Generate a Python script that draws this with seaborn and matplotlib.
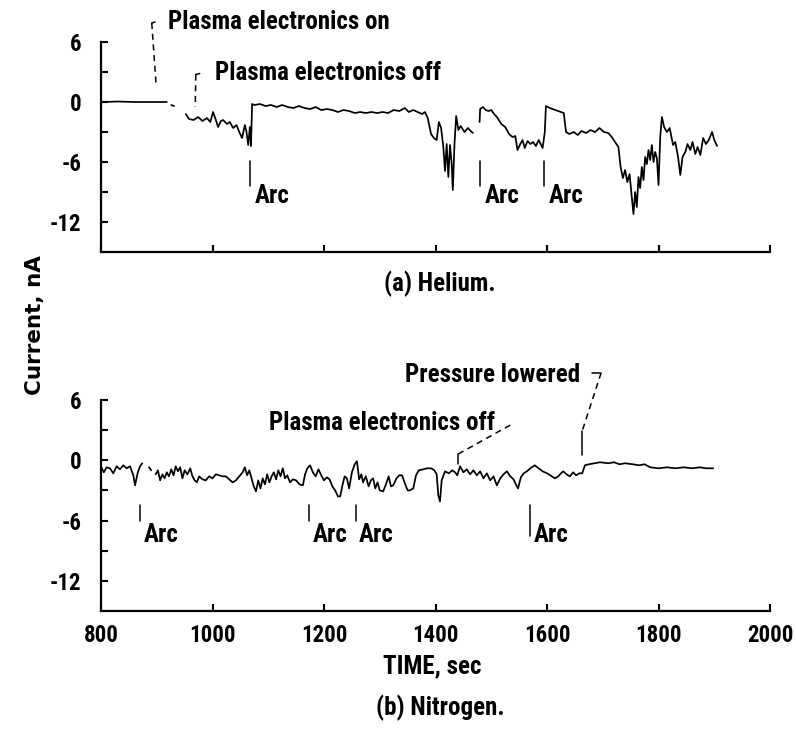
import numpy as np
import pandas as pd
import matplotlib
matplotlib.use("Agg")
import matplotlib.pyplot as plt
import seaborn as sns

# ---- helium run (NaN marks a break in the recorder trace) ----
he_time = [800, 830, 860, 890, 918, np.nan,
           926, 931, np.nan,
           952, 958, 966, 974, 982, 990, 996, 1001, 1006, 1010, 1015, 1019, 1026,
           1031, 1037, 1043, 1048, 1053, 1058, 1061, 1064, 1067, 1069, 1071,
           1075, 1085, 1095, 1105, 1115, 1125, 1135, 1145, 1155, 1165, 1175, 1185,
           1195, 1205, 1215, 1225, 1235, 1245, 1255, 1265, 1275, 1285, 1295, 1305,
           1315, 1325, 1335, 1345, 1352, 1360, 1368, 1376, 1381, 1386, 1392, 1397,
           1402, 1406, 1410, 1414, 1417, 1420, 1423, 1426, 1429, 1431, 1434, 1437,
           1441, 1445, 1452, 1458, 1463, 1467, np.nan,
           1479, 1480, 1485, 1490, 1495, 1500, 1505, 1510, 1518, 1525, 1532, 1538,
           1543, 1547, 1552, 1556, 1560, 1565, 1570, 1575, 1580, 1585, 1592, 1596,
           1598, 1605, 1615, 1625, 1630, 1634, 1640, 1648, 1655, 1662, 1670, 1678,
           1686, 1694, 1702, 1710, 1716, 1722, 1728, 1732, 1736, 1740, 1744, 1748,
           1752, 1755, 1758, 1761, 1764, 1767, 1770, 1773, 1776, 1779, 1782, 1785,
           1788, 1791, 1794, 1797, 1800, 1803, 1806, 1810, 1815, 1820, 1826, 1830,
           1835, 1839, 1843, 1848, 1852, 1857, 1861, 1866, 1870, 1875, 1880, 1885,
           1890, 1896, 1900, 1905]
he_current = [0.0, 0.05, 0.0, 0.0, 0.0, np.nan,
              -0.3, -0.4, np.nan,
              -1.2, -1.7, -1.8, -1.5, -1.9, -1.6, -2.0, -1.0, -1.8, -2.5, -1.9, -1.8, -2.2,
              -2.0, -2.6, -2.3, -3.0, -3.6, -2.3, -3.0, -4.3, -2.5, -4.4, -0.2,
              -0.3, -0.2, -0.4, -0.3, -0.5, -0.3, -0.5, -0.6, -0.4, -0.6, -0.7, -0.5,
              -0.8, -0.7, -0.8, -1.0, -0.8, -0.9, -1.1, -1.0, -1.1, -1.0, -1.1, -1.0,
              -1.1, -0.8, -0.9, -0.6, -1.0, -0.8, -1.0, -1.2, -1.0, -1.6, -3.2, -3.6,
              -3.8, -2.0, -2.6, -4.5, -6.9, -4.2, -7.5, -4.3, -6.2, -8.8, -4.2, -1.4,
              -2.8, -2.4, -3.0, -2.6, -2.9, -3.1, np.nan,
              -2.0, -0.7, -0.5, -0.8, -0.9, -0.8, -1.2, -1.5, -2.2, -2.5, -3.2, -3.5,
              -3.4, -4.8, -4.2, -3.8, -4.6, -3.9, -4.2, -4.0, -4.4, -3.8, -4.6, -3.0,
              -0.4, -0.6, -0.8, -1.0, -1.1, -3.0, -3.2, -3.0, -3.3, -2.9, -3.1, -2.8,
              -3.0, -2.6, -3.0, -3.1, -3.5, -4.0, -4.5, -6.5, -7.6, -6.8, -8.0, -7.2,
              -9.5, -11.2, -9.0, -10.5, -7.5, -8.6, -6.5, -7.8, -5.5, -6.2, -4.8, -5.8,
              -4.3, -6.0, -5.0, -5.6, -8.3, -3.5, -1.5, -2.5, -3.0, -2.6, -4.3, -4.0,
              -5.5, -7.3, -5.5, -5.0, -4.2, -4.8, -4.0, -5.2, -4.5, -5.3, -3.6, -4.2,
              -3.8, -3.0, -3.8, -4.4]

# ---- nitrogen run ----
n2_time = [800, 805, 810, 816, 822, 828, 834, 840, 846, 852, 858, 861, 866, 870, 874, np.nan,
           886, 890, np.nan,
           898, 902, 906, 910, 914, 918, 922, 926, 930, 934, 938, 942, 946, 950, 955,
           960, 964, 968, 972, 976, 982, 988, 994, 1000, 1006, 1012, 1018, 1024, 1030,
           1036, 1042, 1048, 1054, 1058, 1062, 1066, 1070, 1074, 1078, 1082, 1086,
           1090, 1094, 1098, 1102, 1106, 1110, 1114, 1118, 1122, 1126, 1130, 1134,
           1139, 1144, 1150, 1156, 1162, 1166, 1170, 1175, 1180, 1185, 1190, 1195,
           1200, 1205, 1210, 1215, 1220, 1225, 1229, 1233, 1237, 1241, 1245, 1250,
           1255, 1259, 1263, 1267, 1270, 1275, 1280, 1284, 1288, 1292, 1296, 1300,
           1306, 1311, 1316, 1320, 1324, 1330, 1335, 1340, 1345, 1350, 1354, 1360,
           1365, 1370, 1378, 1385, 1392, 1398, 1402, 1405, 1408, 1411, 1417, 1424,
           1430, 1435, 1439, 1444, 1450, 1456, 1462, 1468, 1474, 1480, 1486, 1492,
           1498, 1504, 1510, 1516, 1522, 1528, 1534, 1540, 1544, 1548, 1553, 1558,
           1564, 1570, 1578, 1585, 1592, 1600, 1606, 1614, 1620, 1625, 1629, 1635,
           1641, 1647, 1652, 1658, 1663, 1668, 1675, 1685, 1695, 1710, 1720, 1730,
           1740, 1754, 1765, 1775, 1785, 1800, 1815, 1830, 1845, 1860, 1874, 1885, 1898]
n2_current = [-0.6, -1.2, -0.7, -0.8, -1.3, -0.6, -0.9, -0.5, -0.8, -0.6, -1.5, -2.5, -1.2, -0.6, -0.3, np.nan,
              -0.7, -1.0, np.nan,
              -1.4, -1.0, -2.0, -1.4, -1.8, -1.2, -1.6, -0.9, -1.5, -0.6, -1.1, -0.7, -1.8, -1.0, -1.4,
              -0.8, -1.6, -2.0, -2.2, -1.6, -1.9, -2.0, -1.6, -1.8, -1.4, -1.5, -1.6, -1.6, -1.9,
              -2.2, -2.0, -1.6, -1.2, -0.7, -1.5, -1.0, -1.8, -2.6, -3.1, -2.0, -2.8,
              -1.8, -2.4, -1.4, -2.2, -1.6, -1.2, -1.9, -1.0, -1.6, -0.8, -1.8, -1.5,
              -2.2, -1.9, -2.0, -2.4, -2.5, -1.4, -0.8, -0.5, -1.2, -1.6, -0.9, -1.5,
              -2.0, -1.7, -1.9, -2.6, -3.0, -3.6, -3.6, -2.5, -1.6, -1.8, -2.8, -1.2,
              -0.4, -0.1, -1.9, -1.4, -2.2, -1.6, -2.6, -2.0, -1.8, -2.8, -2.2, -3.0,
              -3.1, -2.4, -1.6, -2.6, -2.5, -1.8, -1.5, -1.5, -2.3, -3.0, -3.0, -2.8,
              -1.5, -1.0, -0.9, -0.8, -0.8, -1.0, -1.4, -3.5, -4.1, -2.0, -1.1, -1.3,
              -1.0, -1.2, -1.5, -0.6, -1.2, -0.9, -1.4, -1.0, -1.5, -1.1, -1.8, -1.3,
              -2.0, -1.6, -2.5, -1.8, -1.4, -1.1, -1.6, -1.9, -2.4, -2.8, -1.7, -1.3,
              -1.1, -0.8, -0.5, -0.8, -1.1, -1.3, -1.5, -1.8, -1.6, -1.3, -1.1, -1.4,
              -1.6, -1.2, -1.5, -1.3, -1.3, -0.5, -0.4, -0.3, -0.2, -0.3, -0.2, -0.4,
              -0.3, -0.4, -0.5, -0.4, -0.7, -0.8, -0.7, -0.8, -0.7, -0.8, -0.7, -0.8, -0.8]

# arc events
he_arc_times = [1067, 1480, 1595]
n2_arc_times = [870, 1173, 1257, 1570]

x_ticks = [800, 1000, 1200, 1400, 1600, 1800, 2000]
y_major = [6, 0, -6, -12]
y_minor = [3, -3, -9]


def trace_frame(t, c):
    df = pd.DataFrame({"time": t, "current": c})
    df["piece"] = df["current"].isna().cumsum()
    return df.dropna()


sns.set_style("ticks")
plt.rcParams["font.family"] = ["Roboto Condensed", "DejaVu Sans"]
plt.rcParams["font.weight"] = "bold"
for key in ("text.color", "axes.labelcolor", "xtick.color", "ytick.color", "axes.edgecolor"):
    plt.rcParams[key] = "black"

fig = plt.figure(figsize=(7.96, 7.32), dpi=100)
ax_he = fig.add_axes([0.1269, 0.6557, 0.8405, 0.2869])
ax_n2 = fig.add_axes([0.1269, 0.1653, 0.8405, 0.2883])

TXT = 18
for ax, t, c in [(ax_he, he_time, he_current), (ax_n2, n2_time, n2_current)]:
    sns.lineplot(data=trace_frame(t, c), x="time", y="current", units="piece",
                 estimator=None, color="black", lw=1.25, ax=ax, sort=False)
    ax.set_xlim(800, 2000)
    ax.set_ylim(-15, 6)
    ax.set_xticks(x_ticks)
    ax.set_yticks(y_major)
    ax.set_yticks(y_minor, minor=True)
    ax.set_yticklabels([str(v) for v in y_major])
    sns.despine(ax=ax)
    for s in ("left", "bottom"):
        ax.spines[s].set_linewidth(1.6)
    ax.tick_params(axis="both", which="both", direction="in", length=5, width=1.5,
                   labelsize=16.5)
    ax.tick_params(axis="y", pad=14)
    ax.tick_params(axis="x", pad=9)
    ax.set_xlabel("")
    ax.set_ylabel("")

ax_he.tick_params(axis="x", labelbottom=False)

dash = dict(color="black", lw=1.1, ls=(0, (4, 3)), clip_on=False)
solid = dict(color="black", lw=1.1, clip_on=False)

# helium annotations
ax_he.plot([891, 899], [7.9, 1.6], **dash)
ax_he.plot([891, 897], [7.9, 8.0], **solid)
ax_he.text(920, 8.0, "Plasma electronics on", fontsize=TXT, va="center", ha="left")
ax_he.plot([970, 969], [2.75, -0.5], **dash)
ax_he.plot([970, 977], [2.75, 2.85], **solid)
ax_he.text(1004, 2.95, "Plasma electronics off", fontsize=TXT, va="center", ha="left")
for t in he_arc_times:
    ax_he.plot([t, t], [-5.9, -8.4], **solid)
    ax_he.text(t + 8, -9.4, "Arc", fontsize=TXT, va="center", ha="left")

# nitrogen annotations
ax_n2.text(1507, 3.7, "Plasma electronics off", fontsize=TXT, va="center", ha="right")
ax_n2.plot([1534, 1440], [3.5, 0.6], **dash)
ax_n2.plot([1440, 1440], [0.6, -0.4], **solid)
ax_n2.text(1345, 8.5, "Pressure lowered", fontsize=TXT, va="center", ha="left")
ax_n2.plot([1681, 1697], [8.7, 8.7], **solid)
ax_n2.plot([1697, 1663], [8.7, 2.9], **dash)
ax_n2.plot([1663, 1663], [2.9, 0.5], **solid)
for t in n2_arc_times:
    bottom = -7.5 if t == 1570 else -6.0
    ax_n2.plot([t, t], [-4.5, bottom], **solid)
    ax_n2.text(t + 6, -7.4, "Arc", fontsize=TXT, va="center", ha="left")

fig.text(440 / 796, 1 - 284 / 732, "(a) Helium.", fontsize=TXT, ha="center", va="center")
fig.text(432 / 796, 1 - 666 / 732, "TIME, sec", fontsize=TXT, ha="center", va="center")
fig.text(440 / 796, 1 - 708 / 732, "(b) Nitrogen.", fontsize=TXT, ha="center", va="center")
fig.text(35 / 796, 1 - 325 / 732, "Current, nA", fontsize=15.5, ha="center", va="center",
         rotation=90, family="DejaVu Sans", fontweight="bold")

fig.savefig("out.png", dpi=100)
